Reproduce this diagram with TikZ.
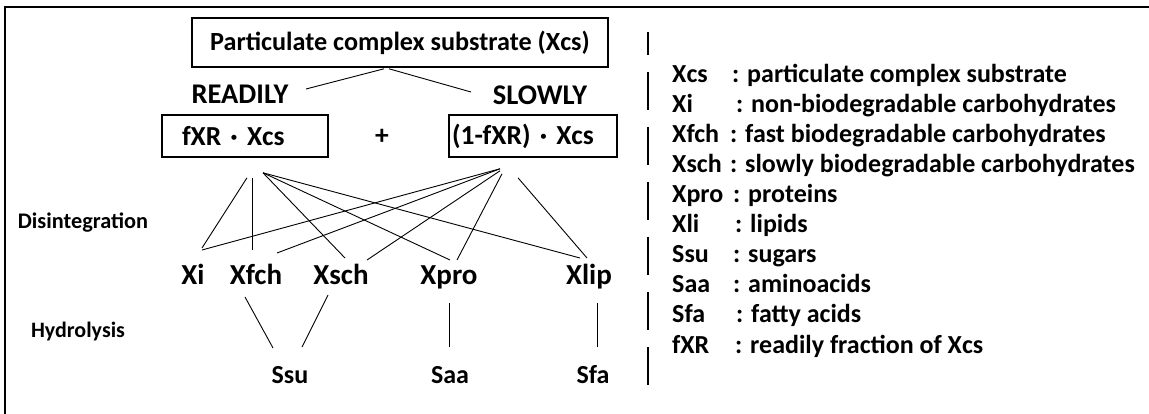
\documentclass[tikz,border=0pt]{standalone}
\usepackage{fontspec}
\setmainfont{Carlito}
\usetikzlibrary{calc}

\begin{document}
\begin{tikzpicture}[
    x=1pt, y=-1pt,
    fs/.style={font=\fontsize{#1}{#1}\selectfont\bfseries},
    lbl/.style={fs=#1, inner sep=0pt, anchor=base},
    box/.style={draw, line width=1.6pt, minimum height=42pt, align=left},
    link/.style={line width=0.9pt}
  ]
  \useasboundingbox (0,0) rectangle (1149,414);
  % frame, only top and left edge visible
  \draw[line width=2.5pt] (1149,7) -- (5,7) -- (5,414);

  % substrate split into readily / slowly part
  \node[box, fs=26.2, minimum width=416pt, minimum height=49pt] (xcs) at (400,42.5) {Particulate complex substrate (Xcs)};
  \node[lbl=28.5] (readily) at (240,104) {READILY};
  \node[lbl=28.5] (slowly) at (540,105) {SLOWLY};
  \node[box, fs=27.5, text width=126pt, inner xsep=20pt] (fxr) at (245,136) {fXR · Xcs};
  \node[box, fs=27.5, text width=162pt, inner xsep=3pt] (slow) at (533,136) {(1-fXR) · Xcs};
  \node[fs=27.5] (plus) at (382,137) {+};
  \draw[link] ($(xcs.south)+(-16,1)$) -- ($(readily.base)+(66,-15)$);
  \draw[link] ($(xcs.south)+(-11,1)$) -- ($(slowly.base)+(-69,-13)$);

  % components and products
  \node[lbl=29] (xi) at (193,284) {Xi};
  \node[lbl=29] (xfch) at (256,284) {Xfch};
  \node[lbl=29] (xsch) at (341,284) {Xsch};
  \node[lbl=29] (xpro) at (449,284) {Xpro};
  \node[lbl=29] (xlip) at (589,284) {Xlip};
  \node[lbl=26] (ssu) at (290,383) {Ssu};
  \node[lbl=26] (saa) at (450,383) {Saa};
  \node[lbl=26] (sfa) at (593,383) {Sfa};
  \node[lbl=22.3] (dis) at (83,229) {Disintegration};
  \node[lbl=22] (hyd) at (78,337) {Hydrolysis};

  % disintegration and hydrolysis links
  \foreach \a/\ax/\ay/\b/\bx/\by in {
      fxr.south/2/20/xi.base/9/-36, fxr.south/7/20/xfch.base/-4/-34,
      fxr.south/18/15/xsch.base/4/-26, fxr.south/18/15/xpro.base/1/-24,
      fxr.south/18/15/xlip.base/-9/-26,
      slow.south/-33/11/xi.base/9/-34, slow.south/-33/11/xfch.base/21/-31,
      slow.south/-33/13/xsch.base/26/-24, slow.south/-31/16/xpro.base/8/-24,
      slow.south/-15/20/xlip.base/-2/-26,
      xfch.base/-11/13/ssu.base/-17/-35, xsch.base/-13/11/ssu.base/12/-36,
      xpro.base/0/19/saa.base/-1/-36, xlip.base/8/19/sfa.base/4/-36} {
    \draw[link] ($(\a)+(\ax,\ay)$) -- ($(\b)+(\bx,\by)$);
  }

  % legend
  \draw[line width=1.6pt, dash pattern=on 38pt off 17pt, dash phase=15pt] (648,32) -- (648,387);
  \foreach \name/\cx/\desc [count=\i from 0] in {
      Xcs/732/particulate complex substrate, Xi/736/non-biodegradable carbohydrates,
      Xfch/730/fast biodegradable carbohydrates, Xsch/730/slowly biodegradable carbohydrates,
      Xpro/733/proteins, Xli/735/lipids, Ssu/733/sugars, Saa/733/aminoacids,
      Sfa/736/fatty acids, fXR/735/readily fraction of Xcs} {
    \node[lbl=26, anchor=base west] (key\i) at (672,83+30*\i) {\name};
    \node[lbl=26, anchor=base west] (val\i) at (\cx,83+30*\i) {: \desc};
  }
\end{tikzpicture}
\end{document}
